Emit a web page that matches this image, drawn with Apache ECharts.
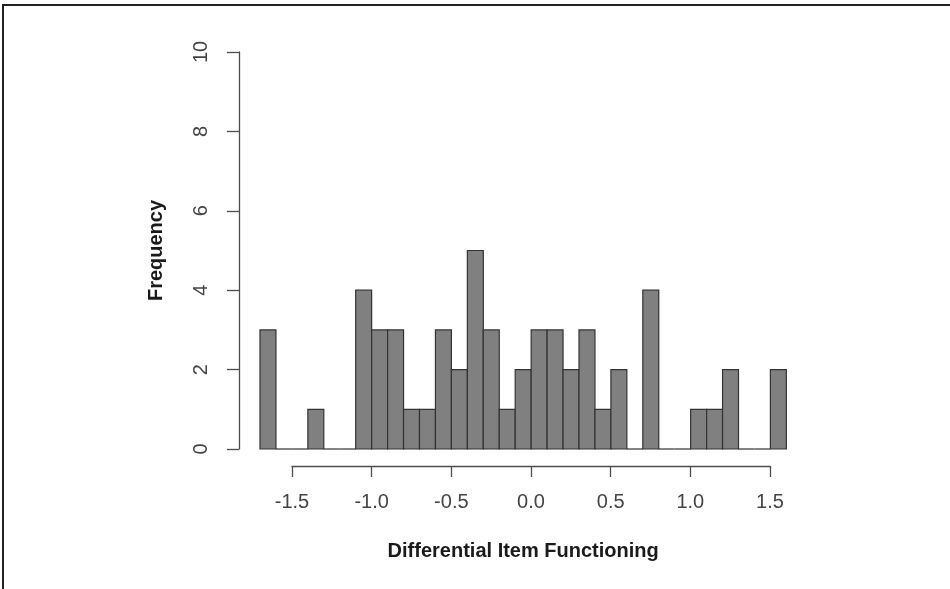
<!DOCTYPE html>
<html>
<head>
<meta charset="utf-8">
<script src="https://cdn.jsdelivr.net/npm/echarts@6/dist/echarts.min.js"></script>
<style>
html,body{margin:0;padding:0;background:#fff;}
#chart{width:950px;height:589px;}
</style>
</head>
<body>
<div id="chart"></div>
<script>
// Histogram bins (left edges) and counts
const binStarts = [-1.7,-1.6,-1.5,-1.4,-1.3,-1.2,-1.1,-1.0,-0.9,-0.8,-0.7,-0.6,-0.5,-0.4,-0.3,-0.2,-0.1,0.0,0.1,0.2,0.3,0.4,0.5,0.6,0.7,0.8,0.9,1.0,1.1,1.2,1.3,1.4,1.5];
const counts    = [3,0,0,1,0,0,4,3,3,1,1,3,2,5,3,1,2,3,3,2,3,1,2,0,4,0,0,1,1,2,0,0,2];
const binWidth = 0.1;
const xTickMin = -1.5, xTickMax = 1.5, xTickStep = 0.5;
const yTickMin = 0, yTickMax = 10, yTickStep = 2;
const xTitle = 'Differential Item Functioning';
const yTitle = 'Frequency';

const data = binStarts.map((s, i) => [s, counts[i]]);
const FONT = '"Liberation Sans", Arial, sans-serif';

const chart = echarts.init(document.getElementById('chart'));
chart.setOption({
  animation: false,
  backgroundColor: '#fff',
  grid: [
    {left: 260, top: 52, width: 526.35, height: 397},
    {left: 292, top: 36, width: 478, height: 430}
  ],
  xAxis: [
    {
      gridIndex: 0, type: 'value', min: binStarts[0], max: 1.6,
      axisLine: {show: false, onZero: false}, axisTick: {show: false}, axisLabel: {show: false}, splitLine: {show: false},
      name: xTitle, nameLocation: 'middle', nameGap: 92,
      nameTextStyle: {fontFamily: FONT, fontSize: 20, fontWeight: 'bold', color: '#1a1a1a'}
    },
    {
      gridIndex: 1, type: 'value', min: xTickMin, max: xTickMax, interval: xTickStep,
      axisLine: {show: true, onZero: false, lineStyle: {color: '#4d4d4d', width: 1.3}},
      axisTick: {show: true, inside: false, length: 11, lineStyle: {color: '#4d4d4d', width: 1.3}},
      axisLabel: {show: true, margin: 26, fontFamily: FONT, fontSize: 20, color: '#444',
        formatter: v => v.toFixed(1)},
      splitLine: {show: false}
    }
  ],
  yAxis: [
    {
      gridIndex: 0, type: 'value', min: yTickMin, max: yTickMax, interval: yTickStep, offset: 21,
      position: 'left',
      axisLine: {show: true, onZero: false, lineStyle: {color: '#4d4d4d', width: 1.3}},
      axisTick: {show: true, inside: false, length: 12, lineStyle: {color: '#4d4d4d', width: 1.3}},
      axisLabel: {show: true, rotate: 90, margin: 28, fontFamily: FONT, fontSize: 20, color: '#444'},
      splitLine: {show: false},
      name: yTitle, nameLocation: 'middle', nameGap: 73, nameRotate: 90,
      nameTextStyle: {fontFamily: FONT, fontSize: 20, fontWeight: 'bold', color: '#1a1a1a'}
    },
    {gridIndex: 1, type: 'value', show: false, axisLine: {onZero: false}}
  ],
  series: [{
    type: 'custom',
    xAxisIndex: 0, yAxisIndex: 0,
    clip: false,
    data: data,
    renderItem: function (params, api) {
      const x0 = api.value(0), h = api.value(1);
      const p0 = api.coord([x0, 0]);
      const p1 = api.coord([x0 + binWidth, h]);
      if (h === 0) {
        return {type: 'line', shape: {x1: p0[0], y1: p0[1], x2: p1[0], y2: p0[1]},
          style: {stroke: '#333', lineWidth: 1.2}};
      }
      return {
        type: 'rect',
        shape: {x: p0[0], y: p1[1], width: p1[0] - p0[0], height: p0[1] - p1[1]},
        style: {fill: '#808080', stroke: '#333', lineWidth: 1.2}
      };
    }
  }],
  graphic: [
    {type: 'line', shape: {x1: 2, y1: 5, x2: 950, y2: 5}, style: {stroke: '#222', lineWidth: 2}},
    {type: 'line', shape: {x1: 3, y1: 4, x2: 3, y2: 589}, style: {stroke: '#222', lineWidth: 2}}
  ]
});
</script>
</body>
</html>
